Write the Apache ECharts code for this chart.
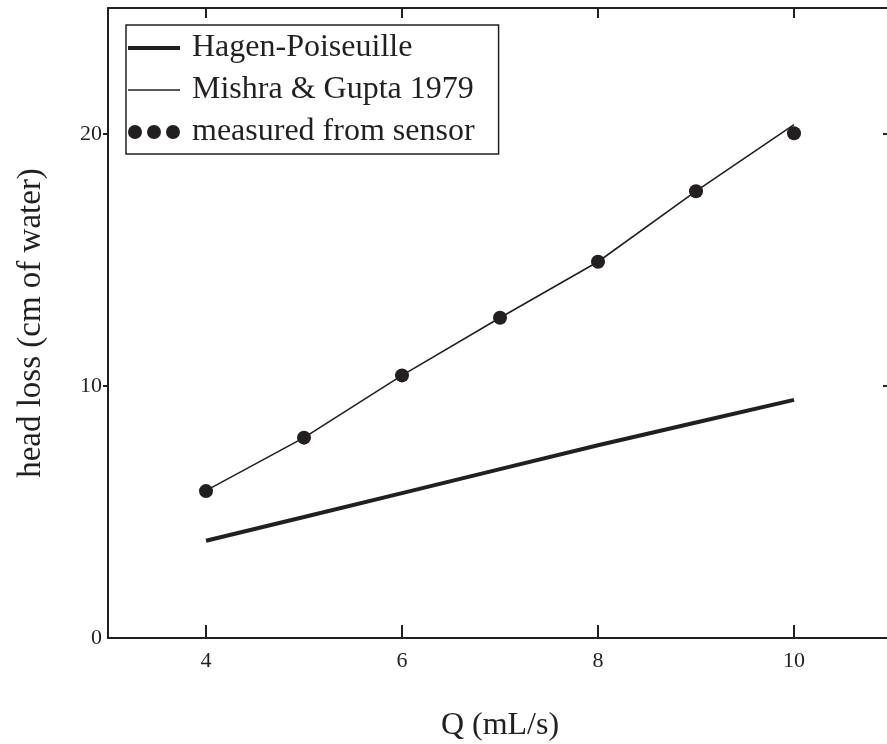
<!DOCTYPE html>
<html>
<head>
<meta charset="utf-8">
<script src="https://cdn.jsdelivr.net/npm/echarts@6/dist/echarts.min.js"></script>
<style>
  html, body { margin: 0; padding: 0; background: #fff; }
  #chart { width: 887px; height: 744px; }
</style>
</head>
<body>
<div id="chart"></div>
<script>
// valores
const caudal = [4, 5, 6, 7, 8, 9, 10];
const hagenPoiseuille = [3.86, 4.8, 5.75, 6.7, 7.65, 8.55, 9.45];
const mishraGupta = [5.85, 7.95, 10.42, 12.71, 14.93, 17.73, 20.37];
const medidoSensor = [5.83, 7.95, 10.42, 12.71, 14.93, 17.73, 20.03];
const ticksX = [4, 6, 8, 10];
const ticksY = [0, 10, 20];

const tinta = "#231f20";
const fuente = "Liberation Serif";

function pares(xs, ys) {
  return xs.map((x, i) => [x, ys[i]]);
}

// iconos de la leyenda
const iconoPuntos =
  "path://M0,7A7,7 0 1,0 14,7A7,7 0 1,0 0,7Z" +
  "M19,7A7,7 0 1,0 33,7A7,7 0 1,0 19,7Z" +
  "M38,7A7,7 0 1,0 52,7A7,7 0 1,0 38,7Z";
const iconoGrueso = "path://M0,0H52V4H0Z";
const iconoFino = "path://M0,0H52V1.6H0Z";

// el borde derecho del marco queda fuera de la imagen
const ejeX = {
  type: "value",
  min: 3,
  max: 11,
  splitLine: { show: false },
  axisLine: { onZero: false, lineStyle: { color: tinta, width: 2 } },
};
const ejeY = {
  type: "value",
  min: 0,
  max: 25,
  splitLine: { show: false },
  axisLine: { lineStyle: { color: tinta, width: 2 } },
};

var option = {
  animation: false,
  backgroundColor: "#fff",
  grid: { left: 108, top: 8, width: 784, height: 630, containLabel: false, outerBoundsMode: "none" },
  legend: {
    orient: "vertical",
    left: 126,
    top: 25,
    padding: [7, 24, 6, 2],
    itemGap: 10,
    itemWidth: 52,
    itemHeight: 14,
    borderColor: tinta,
    borderWidth: 1.5,
    borderRadius: 0,
    textStyle: { fontFamily: fuente, fontSize: 32, color: tinta, lineHeight: 32, padding: [0, 0, 0, 7] },
    data: [
      { name: "Hagen-Poiseuille", icon: iconoGrueso },
      { name: "Mishra & Gupta 1979", icon: iconoFino },
      { name: "measured from sensor", icon: iconoPuntos },
    ],
  },
  xAxis: [
    Object.assign({}, ejeX, {
      position: "bottom",
      name: "Q (mL/s)",
      nameLocation: "middle",
      nameGap: 72,
      nameTextStyle: { fontFamily: fuente, fontSize: 32, color: tinta },
      axisTick: { inside: true, length: 13, customValues: ticksX, lineStyle: { color: tinta, width: 2 } },
      axisLabel: { customValues: ticksX, margin: 12, fontFamily: fuente, fontSize: 22, color: tinta },
    }),
    Object.assign({}, ejeX, {
      position: "top",
      axisTick: { inside: true, length: 10, customValues: ticksX, lineStyle: { color: tinta, width: 2 } },
      axisLabel: { show: false },
    }),
  ],
  yAxis: [
    Object.assign({}, ejeY, {
      position: "left",
      name: "head loss (cm of water)",
      nameLocation: "middle",
      nameGap: 60,
      nameTextStyle: { fontFamily: fuente, fontSize: 33, color: tinta },
      axisTick: { inside: false, length: 5, customValues: [10, 20], lineStyle: { color: tinta, width: 2 } },
      axisLabel: { customValues: ticksY, margin: 6, fontFamily: fuente, fontSize: 22, color: tinta },
    }),
    Object.assign({}, ejeY, {
      position: "right",
      axisTick: { inside: true, length: 9, customValues: [10, 20], lineStyle: { color: tinta, width: 2 } },
      axisLabel: { show: false },
    }),
  ],
  series: [
    {
      name: "Hagen-Poiseuille",
      type: "line",
      symbol: "none",
      symbolKeepAspect: true,
      data: pares(caudal, hagenPoiseuille),
      lineStyle: { color: tinta, width: 4 },
      itemStyle: { color: tinta },
    },
    {
      name: "Mishra & Gupta 1979",
      type: "line",
      symbol: "none",
      symbolKeepAspect: true,
      data: pares(caudal, mishraGupta),
      lineStyle: { color: tinta, width: 1.6 },
      itemStyle: { color: tinta },
    },
    {
      name: "measured from sensor",
      type: "scatter",
      symbol: "circle",
      symbolSize: 14,
      symbolKeepAspect: true,
      data: pares(caudal, medidoSensor),
      itemStyle: { color: tinta, opacity: 1 },
      z: 3,
    },
  ],
};

const dom = document.getElementById("chart");
const myChart = echarts.init(dom, null, { renderer: "canvas" });
myChart.setOption(option);
window.addEventListener("resize", myChart.resize);
</script>
</body>
</html>
